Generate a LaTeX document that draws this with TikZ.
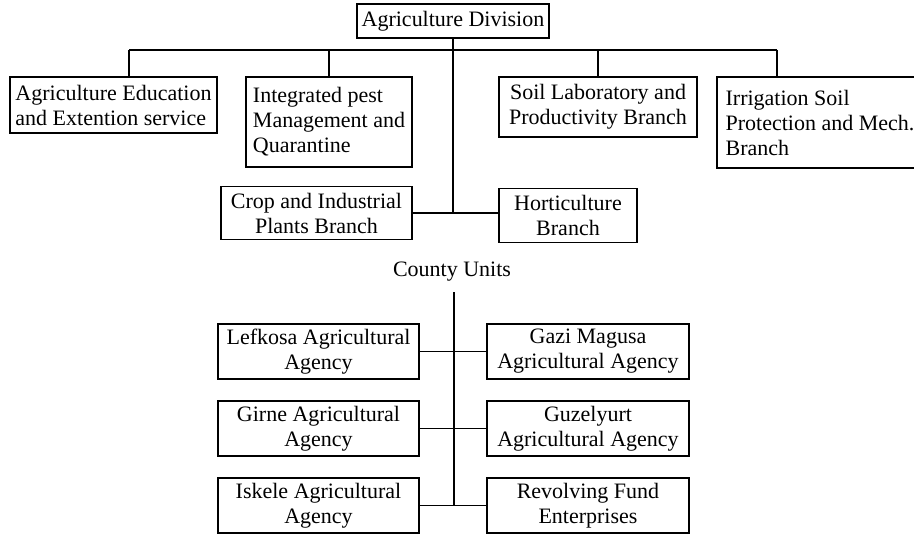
\documentclass[tikz,border=0pt]{standalone}
\usepackage{fontspec}
\setmainfont{Liberation Serif}
\begin{document}
\begin{tikzpicture}[x=1pt,y=-1pt,
  box/.style={draw=black,line width=1.8pt,inner sep=2pt,font=\fontsize{22}{25}\selectfont,align=center},
  lbox/.style={box,align=left},
  conn/.style={line width=1.8pt},
  lbl/.style={inner sep=0pt,font=\fontsize{22}{25}\selectfont}]
\useasboundingbox (0,0) rectangle (914,535);
\clip (0,0) rectangle (914,535);
% top part
\node[box,minimum width=192pt,minimum height=34pt] (top) at (453,21) {Agriculture Division};
\node[lbox,minimum width=207pt,minimum height=56pt] (b1) at (113.5,105) {Agriculture Education\\and Extention service};
\node[lbox,minimum width=166pt,minimum height=90pt] (b2) at (329,122) {Integrated pest\\Management and\\Quarantine};
\node[box,minimum width=198pt,minimum height=60pt] (b3) at (598,107) {Soil Laboratory and\\Productivity Branch};
\node[lbox,minimum width=206pt,minimum height=91pt] (b4) at (820,122.5) {Irrigation Soil\\Protection and Mech.\\Branch};
\node[box,minimum width=191pt,minimum height=53pt] (crop) at (316.5,213) {Crop and Industrial\\Plants Branch};
\node[box,minimum width=138pt,minimum height=54pt] (hort) at (568,215.5) {Horticulture\\Branch};
\coordinate (busL) at (129,50);
\coordinate (busR) at (777,50);
\draw[conn] (busL) -- (busR);
\draw[conn] (top.south) -- (top.south |- crop.east);
\draw[conn] (busL) -- (busL |- b1.north);
\draw[conn] (b2.north |- busL) -- (b2.north);
\draw[conn] (b3.north |- busL) -- (b3.north);
\draw[conn] (busR) -- (busR |- b4.north);
\draw[conn] (crop.east) -- (crop.east -| hort.west);
% county units
\node[lbl] (cu) at (452,272) {County Units};
\coordinate (spine) at (454,292);
\node[box,minimum width=201pt,minimum height=55pt] (l1) at (318.5,351.5) {Lefkosa Agricultural\\Agency};
\node[box,minimum width=202pt,minimum height=55pt] (r1) at (588,351.5) {Gazi Magusa\\Agricultural Agency};
\node[box,minimum width=201pt,minimum height=55pt] (l2) at (318.5,428.5) {Girne Agricultural\\Agency};
\node[box,minimum width=202pt,minimum height=55pt] (r2) at (588,428.5) {Guzelyurt\\Agricultural Agency};
\node[box,minimum width=201pt,minimum height=55pt] (l3) at (318.5,505.5) {Iskele Agricultural\\Agency};
\node[box,minimum width=202pt,minimum height=55pt] (r3) at (588,505.5) {Revolving Fund\\Enterprises};
\draw[conn] (spine) -- (spine |- l3.east);
\draw[conn] (l1.east) -- (r1.west);
\draw[conn] (l2.east) -- (r2.west);
\draw[conn] (l3.east) -- (r3.west);
\end{tikzpicture}
\end{document}
